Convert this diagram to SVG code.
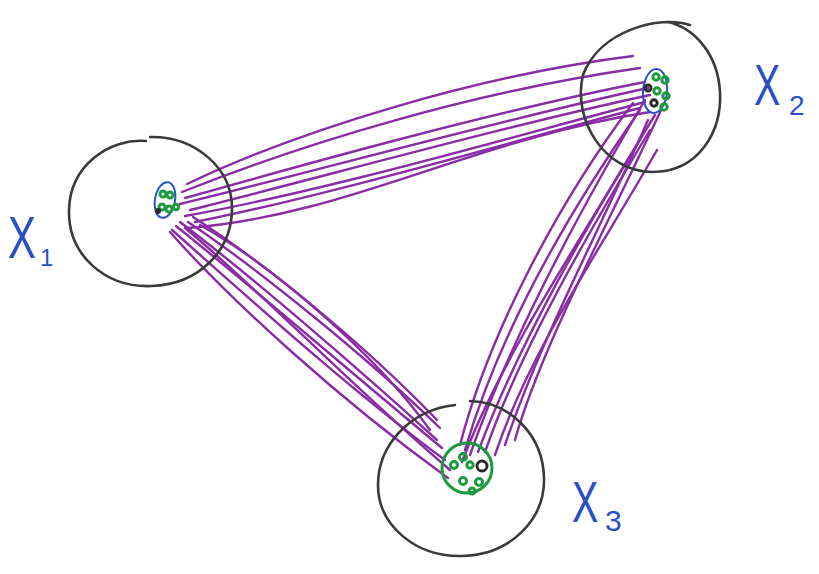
<svg xmlns="http://www.w3.org/2000/svg" width="819" height="574" viewBox="0 0 819 574">
<style>
.big{fill:none;stroke:#3a3a3a;stroke-width:2.6;stroke-linecap:round}
.blue{fill:none;stroke:#2a55c9;stroke-width:2}
.grn{fill:none;stroke:#1b9a3e;stroke-width:3}
.dk{fill:none;stroke:#2a2a2a;stroke-width:3}
.lbl{font-family:"Liberation Sans",Arial,sans-serif;fill:#2a4fc4}
#connectors path{fill:none;stroke:#8a2ca3;stroke-width:2.4;stroke-linecap:round}
</style>
<rect width="819" height="574" fill="#ffffff"/>
<g id="connectors">
<path d="M187,184 C300,130 480,75 633,56"/>
<path d="M182,192 C300,145 470,92 640,68"/>
<path d="M185,198 C320,160 500,110 645,82"/>
<path d="M180,204 C320,170 500,120 648,88"/>
<path d="M190,210 C330,175 510,125 650,95"/>
<path d="M185,216 C330,190 500,140 645,102"/>
<path d="M195,222 C330,195 500,145 640,108"/>
<path d="M188,228 C350,215 470,140 650,112"/>
<path d="M193,217 C260,260 360,340 437,420"/>
<path d="M188,222 C260,270 370,360 440,428"/>
<path d="M180,222 C250,275 360,370 437,440"/>
<path d="M176,226 C250,285 360,380 442,448"/>
<path d="M172,230 C240,290 350,390 445,460"/>
<path d="M185,228 C260,290 350,385 450,470"/>
<path d="M170,232 C230,300 340,400 448,478"/>
<path d="M200,225 C280,270 380,360 430,430"/>
<path d="M633,103 C560,200 490,330 460,445"/>
<path d="M640,110 C570,210 500,330 465,450"/>
<path d="M645,100 C580,210 510,340 470,455"/>
<path d="M655,115 C590,220 520,340 478,452"/>
<path d="M650,130 C590,230 520,350 485,452"/>
<path d="M657,150 C600,250 530,350 495,455"/>
<path d="M648,120 C600,230 540,340 505,445"/>
<path d="M662,108 C610,220 540,350 515,440"/>
<path d="M640,140 C580,240 500,360 462,462"/>
</g>
<g id="X1">
<path class="big" d="M146,141 C110,138 70,165 69,210 C68,255 105,288 152,286 C200,284 232,250 232,208 C232,168 195,136 150,137"/>
<ellipse class="blue" cx="165" cy="200" rx="10" ry="18" transform="rotate(10 165 200)"/>
<circle class="grn" cx="163" cy="194" r="3"/><circle class="grn" cx="170" cy="195" r="3"/>
<circle class="grn" cx="162" cy="207" r="3"/><circle class="grn" cx="169" cy="209" r="3"/><circle class="grn" cx="176" cy="207" r="2.8"/>
<circle class="dk" cx="158" cy="211" r="1.5"/>
<text class="lbl" x="8" y="258" font-size="60" transform="translate(8 258) scale(0.7 1) translate(-8 -258)">X</text>
<text class="lbl" x="40" y="266" font-size="24">1</text>
</g>
<g id="X2">
<path class="big" d="M690,25 C660,15 600,30 583,75 C572,120 605,172 652,172 C700,172 722,130 720,92 C718,55 695,28 668,22"/>
<ellipse class="blue" cx="655" cy="91" rx="12" ry="22" transform="rotate(5 655 91)"/>
<circle class="grn" cx="656" cy="77" r="3.2"/><circle class="grn" cx="665" cy="80" r="3.2"/>
<circle class="dk" cx="648" cy="88" r="3"/><circle class="grn" cx="657" cy="91" r="3.2"/><circle class="grn" cx="666" cy="96" r="3.2"/>
<circle class="dk" cx="654" cy="103" r="3.2"/><circle class="grn" cx="664" cy="107" r="3.2"/>
<text class="lbl" x="754" y="105" font-size="58" transform="translate(754 105) scale(0.68 1) translate(-754 -105)">X</text>
<text class="lbl" x="789" y="115" font-size="28">2</text>
</g>
<g id="X3">
<path class="big" d="M455,405 C410,410 378,445 378,485 C378,525 415,557 462,556 C510,555 545,520 544,478 C543,435 510,402 470,401"/>
<circle class="grn" cx="467" cy="468" r="25"/>
<circle class="grn" cx="463" cy="457" r="3.5"/><circle class="grn" cx="454" cy="465" r="3.5"/>
<circle class="grn" cx="470" cy="465" r="3.2"/><circle class="dk" cx="482" cy="466" r="5"/>
<circle class="grn" cx="463" cy="481" r="3.5"/><circle class="grn" cx="479" cy="482" r="3.5"/><circle class="grn" cx="472" cy="491" r="3"/>
<text class="lbl" x="572" y="522" font-size="58" transform="translate(572 522) scale(0.68 1) translate(-572 -522)">X</text>
<text class="lbl" x="605" y="531" font-size="30">3</text>
</g>
</svg>
